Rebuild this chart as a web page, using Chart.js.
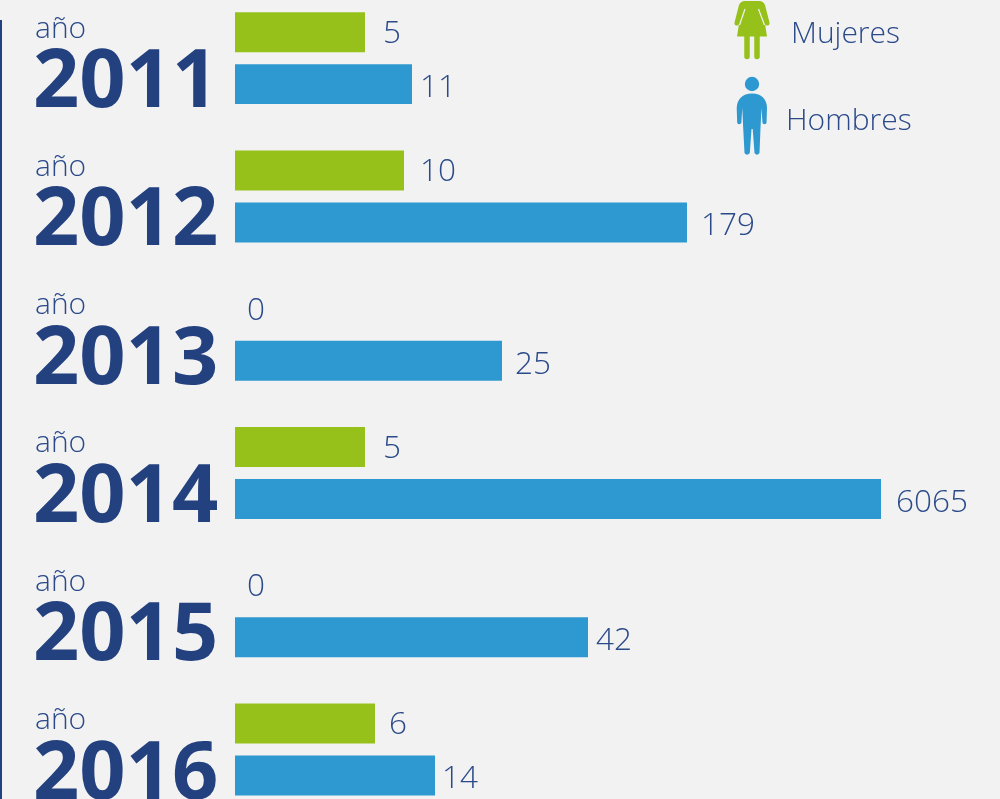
<!DOCTYPE html>
<html lang="es">
<head>
<meta charset="utf-8">
<title>Mujeres y hombres por año</title>
<script src="https://cdn.jsdelivr.net/npm/chart.js@4"></script>
<style>
html,body{margin:0;padding:0;width:1000px;height:799px;overflow:hidden;background:#f2f2f2}
#wrap{position:absolute;left:0;top:-20px;width:1000px;height:860px}
</style>
</head>
<body>
<div id="wrap"><canvas id="c" width="1000" height="860"></canvas></div>
<script>
const years = ['2011','2012','2013','2014','2015','2016'];
const mujeres = [5,10,0,5,0,6];
const hombres = [11,179,25,6065,42,14];
const prefix = 'año';
const seriesNames = ['Mujeres','Hombres'];

// The original bars are not proportional: the axis is a hand-tuned value → length mapping.
const axisValues  = [0,5,6,10,11,14,25,42,179,6065];
const axisLengths = [0,130,140,169,177,200,267,353,452,646];
// Gap between bar end and its value label, per series
const gapMujeres = [18,16,12,18,12,14];
const gapHombres = [8,14,13,15,8,7];

const GREEN='#95c11a', BLUE='#2e98d0', NAVY='#24417f', TEXT='#2b4a8a', BG='#f2f2f2';
const LIGHT='300 31.5px "Open Sans"';

class PictureScale extends Chart.LinearScale {
  static id = 'pictureScale';
  static defaults = Chart.LinearScale.defaults;
  getPixelForValue(v){
    let i = 0;
    while (i < axisValues.length-2 && v > axisValues[i+1]) i++;
    const t = (v-axisValues[i])/(axisValues[i+1]-axisValues[i]);
    return this.left + axisLengths[i] + t*(axisLengths[i+1]-axisLengths[i]);
  }
}
Chart.register(PictureScale);

const decor = {
  id:'decor',
  afterDatasetsDraw(chart){
    const {ctx, scales:{y}} = chart;
    const off = 20; // canvas is shifted up by this much
    ctx.save();
    // left rule
    ctx.fillStyle=NAVY;
    ctx.fillRect(0,20+off,2,800);
    // "año" above each year
    ctx.fillStyle=TEXT; ctx.font='300 30px "Open Sans"';
    ctx.textAlign='left'; ctx.textBaseline='alphabetic';
    years.forEach((_,i)=>ctx.fillText(prefix,35,y.getPixelForTick(i)-20.5));
    // value labels
    ctx.font=LIGHT; ctx.textBaseline='middle';
    [[mujeres,gapMujeres],[hombres,gapHombres]].forEach(([vals,gaps],d)=>{
      chart.getDatasetMeta(d).data.forEach((bar,i)=>{
        ctx.fillText(String(vals[i]),bar.x+gaps[i],bar.y+(d===0?2:4));
      });
    });
    // legend
    ctx.font='300 30px "Open Sans"'; ctx.textBaseline='alphabetic';
    ctx.fillText(seriesNames[0],791,43+off);
    ctx.fillText(seriesNames[1],786,130+off);
    drawWoman(ctx,off); drawMan(ctx,off);
    ctx.restore();
  }
};
function drawWoman(c,o){
  c.save(); c.translate(0,o); c.fillStyle=GREEN; c.strokeStyle=GREEN; c.lineCap='round'; c.lineJoin='round';
  c.beginPath();
  c.moveTo(744,1); c.lineTo(760,1); c.quadraticCurveTo(763.5,1.5,765,5);
  c.lineTo(769.5,22.5); c.quadraticCurveTo(770,25,767.5,25.5); c.quadraticCurveTo(765.5,26,765,24);
  c.lineTo(767,36.5); c.lineTo(737,36.5); c.lineTo(739,24);
  c.quadraticCurveTo(738.5,26,736.5,25.5); c.quadraticCurveTo(734,25,734.5,22.5);
  c.lineTo(739,5); c.quadraticCurveTo(740.5,1.5,744,1); c.closePath(); c.fill();
  c.lineWidth=5.5;
  c.beginPath(); c.moveTo(747,36); c.lineTo(747,56.5); c.moveTo(757,36); c.lineTo(757,56.5); c.stroke();
  c.strokeStyle=BG; c.lineWidth=1.2; c.lineCap='butt';
  c.beginPath(); c.moveTo(745,9); c.lineTo(739.5,25); c.moveTo(758.5,9); c.lineTo(764.5,25); c.stroke();
  c.restore();
}
function drawMan(c,o){
  c.save(); c.translate(0,o); c.fillStyle=BLUE; c.lineJoin='round';
  c.beginPath(); c.arc(752,84,7.2,0,Math.PI*2); c.fill();
  c.beginPath();
  c.moveTo(736.7,108); c.quadraticCurveTo(737.5,94,752,93.5); c.quadraticCurveTo(766.5,94,767,108);
  c.lineTo(766.5,123); c.quadraticCurveTo(764.5,125.5,762.5,123); c.lineTo(761.5,108);
  c.lineTo(760.5,128); c.lineTo(759.5,153); c.quadraticCurveTo(757,156.5,754.5,153);
  c.lineTo(752.7,129); c.lineTo(751.5,129); c.lineTo(749.8,153); c.quadraticCurveTo(747,156.5,744.5,153);
  c.lineTo(743.2,128); c.lineTo(742.3,108);
  c.lineTo(741.3,123); c.quadraticCurveTo(739.2,125.5,737.2,123);
  c.closePath(); c.fill();
  c.restore();
}

new Chart(document.getElementById('c'),{
  type:'bar',
  data:{
    labels:years,
    datasets:[
      {label:seriesNames[0],data:mujeres,backgroundColor:GREEN,borderWidth:0},
      {label:seriesNames[1],data:hombres,backgroundColor:BLUE,borderWidth:0}
    ]
  },
  options:{
    indexAxis:'y',
    responsive:false,
    animation:false,
    events:[],
    categoryPercentage:0.752,
    barPercentage:0.769,
    layout:{padding:{left:33,right:0,top:9,bottom:21.4}},
    plugins:{legend:{display:false},tooltip:{enabled:false}},
    scales:{
      x:{type:'pictureScale',display:false,min:0,max:6065,grid:{display:false}},
      y:{
        type:'category',
        grid:{display:false},
        border:{display:false},
        afterFit(s){s.width=202;s.paddingTop=0;s.paddingBottom=0;},
        ticks:{
          color:NAVY,
          autoSkip:false,
          padding:0,
          crossAlign:'far',
          labelOffset:26,
          font:{family:'"Open Sans"',weight:'700',size:81}
        }
      }
    }
  },
  plugins:[decor]
});
</script>
</body>
</html>
